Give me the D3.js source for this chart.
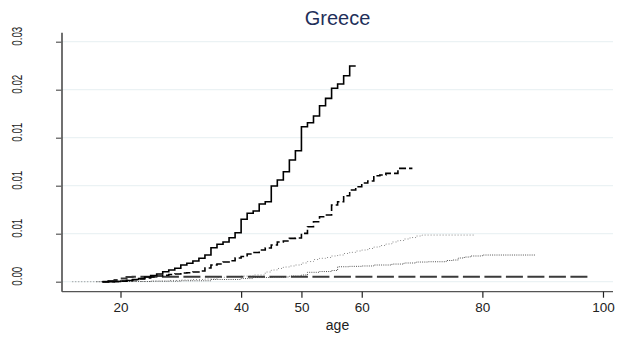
<!DOCTYPE html>
<html>
<head>
<meta charset="utf-8">
<script src="https://cdn.jsdelivr.net/npm/d3@7"></script>
<style>
  html, body { margin: 0; padding: 0; background: #fff; }
  svg { display: block; font-family: Arial, "Liberation Sans", sans-serif; }
</style>
</head>
<body>
<svg id="chart" width="620" height="342"></svg>
<script>
// Cumulative incidence by age, Greece
const title = "Greece";
const xLabel = "age";

const xTicks = [20, 40, 50, 60, 80, 100];
const yTicks = [0, 0.005, 0.01, 0.015, 0.02, 0.025];
const yTickLabels = ["0.00", "0.01", "0.01", "0.01", "0.02", "0.03"];

// Series 1 (solid)
const ages1 = [17, 18, 19, 20, 21, 22, 23, 24, 25, 26, 27, 28, 29, 30, 31, 32, 33, 34, 35, 36, 37, 38, 39,
  40, 41, 42, 43, 44, 45, 46, 47, 48, 49, 50, 51, 52, 53, 54, 55, 56, 57, 58, 59];
const vals1 = [0, 0.00001, 0.00003, 0.00007, 0.00013, 0.00023, 0.00033, 0.00049, 0.00065, 0.00080, 0.00104,
  0.00122, 0.00140, 0.00174, 0.00192, 0.00216, 0.00244, 0.00278, 0.00354, 0.00390, 0.00414, 0.00458,
  0.00510, 0.00650, 0.00713, 0.00736, 0.00809, 0.00833, 0.00997, 0.01059, 0.01146, 0.01268, 0.01365,
  0.01615, 0.01656, 0.01726, 0.01833, 0.01910, 0.02015, 0.02059, 0.02146, 0.02247, 0.02247];

// Series 2 (dashed)
const ages2 = [17, 18, 19, 20, 21, 22, 23, 24, 25, 26, 27, 28, 29, 30, 31, 32, 33, 34, 35, 36, 37, 38, 39,
  40, 41, 42, 43, 44, 45, 46, 47, 48, 49, 50, 51, 52, 53, 54, 55, 56, 57, 58, 59, 60, 61, 62, 63, 64,
  65, 66, 67, 68.4];
const vals2 = [0, 0.00001, 0.00003, 0.00005, 0.00013, 0.00020, 0.00028, 0.00039, 0.00049, 0.00059, 0.00067,
  0.00075, 0.00080, 0.00091, 0.00094, 0.00101, 0.00111, 0.00143, 0.00174, 0.00184, 0.00205, 0.00219,
  0.00247, 0.00263, 0.00289, 0.00304, 0.00330, 0.00351, 0.00382, 0.00414, 0.00424, 0.00452, 0.00455,
  0.00504, 0.00573, 0.00625, 0.00677, 0.00695, 0.00799, 0.00833, 0.00896, 0.00955, 0.00990, 0.01028,
  0.01049, 0.01104, 0.01111, 0.01129, 0.01129, 0.01181, 0.01181, 0.01181];

// Series 3 (grey dots, upper)
const ages3 = [12, 20, 25, 28, 30, 32, 34, 36, 38, 40, 42, 44, 45, 46, 47, 48, 49, 50, 51, 52, 53, 54, 55,
  56, 57, 58, 59, 60, 61, 62, 63, 64, 65, 66, 67, 68, 69, 70, 78.8];
const vals3 = [0, 0.00002, 0.00007, 0.00013, 0.00018, 0.00023, 0.00028, 0.00046, 0.00054, 0.00059, 0.00070,
  0.00101, 0.00122, 0.00138, 0.00153, 0.00164, 0.00174, 0.00195, 0.00210, 0.00231, 0.00244, 0.00252,
  0.00268, 0.00278, 0.00294, 0.00306, 0.00320, 0.00330, 0.00346, 0.00361, 0.00377, 0.00393, 0.00414,
  0.00429, 0.00445, 0.00460, 0.00476, 0.00486, 0.00486];

// Series 4 (dense dots, lower)
const ages4 = [16, 20, 25, 30, 35, 40, 42, 45, 48, 50, 51, 53, 55, 56, 58, 60, 62, 65, 67, 69, 71, 74, 75,
  76, 77, 78, 80, 88.9];
const vals4 = [0, 0.00002, 0.00005, 0.00010, 0.00023, 0.00033, 0.00044, 0.00049, 0.00059, 0.00070, 0.00098,
  0.00106, 0.00117, 0.00156, 0.00160, 0.00164, 0.00174, 0.00184, 0.00195, 0.00205, 0.00208, 0.00221,
  0.00226, 0.00247, 0.00257, 0.00268, 0.00278, 0.00278];

// Series 5 (long dash)
const ages5 = [17, 18, 19, 20, 21, 22, 97.6];
const vals5 = [0, 0.00007, 0.00018, 0.00033, 0.00049, 0.00052, 0.00052];

const series = [
  { ages: ages3, vals: vals3, stroke: "#8a8a8a", width: 1, dash: "1,2" },
  { ages: ages4, vals: vals4, stroke: "#555", width: 1, dash: "1,1.2" },
  { ages: ages5, vals: vals5, stroke: "#3a3a3a", width: 2, dash: "17,4.5" },
  { ages: ages2, vals: vals2, stroke: "#000", width: 1.6, dash: "7,3" },
  { ages: ages1, vals: vals1, stroke: "#000", width: 1.6, dash: null }
];

const svg = d3.select("#chart");
const plot = { left: 62, right: 613, top: 32.7, bottom: 291.7 };

const x = d3.scaleLinear().domain([10.3, 101.66]).range([plot.left, plot.right]);
const y = d3.scaleLinear().domain([-0.00104, 0.02594]).range([plot.bottom, plot.top]);

// horizontal grid
svg.append("g").selectAll("line").data(yTicks).join("line")
  .attr("x1", plot.left).attr("x2", plot.right)
  .attr("y1", d => y(d)).attr("y2", d => y(d))
  .attr("stroke", "#e6eff1").attr("stroke-width", 1);

// curves
const line = d3.line().x(d => x(d[0])).y(d => y(d[1])).curve(d3.curveStepAfter);
series.forEach(s => {
  const pts = s.ages.map((a, i) => [a, s.vals[i]]);
  svg.append("path").datum(pts)
    .attr("d", line)
    .attr("fill", "none")
    .attr("stroke", s.stroke)
    .attr("stroke-width", s.width)
    .attr("stroke-dasharray", s.dash);
});

// y axis
const yAxis = svg.append("g").attr("transform", `translate(${plot.left},0)`)
  .call(d3.axisLeft(y).tickValues(yTicks).tickSize(6).tickFormat(""));
yAxis.select(".domain").attr("d", `M0,${plot.top}V${plot.bottom}`).attr("stroke", "#111").attr("stroke-width", 1.2);
yAxis.selectAll(".tick line").attr("stroke", "#666").attr("stroke-width", 1.3);
svg.append("g").selectAll("text").data(yTicks).join("text")
  .attr("transform", (d) => `translate(21.7,${y(d) - 5.5}) rotate(-90) scale(0.7,1)`)
  .attr("text-anchor", "middle")
  .attr("font-size", 14)
  .attr("fill", "#222")
  .text((d, i) => yTickLabels[i]);

// x axis
const xAxis = svg.append("g").attr("transform", `translate(0,${plot.bottom})`)
  .call(d3.axisBottom(x).tickValues(xTicks).tickSize(6).tickFormat(d3.format("d")));
xAxis.select(".domain").attr("d", `M${plot.left},0H${plot.right}`).attr("stroke", "#555").attr("stroke-width", 1.2);
xAxis.selectAll(".tick line").attr("stroke", "#222").attr("stroke-width", 1.2);
xAxis.selectAll(".tick text").attr("font-size", 13.5).attr("fill", "#222").attr("y", 11).attr("dy", "0.71em")
  .attr("font-family", "Arial, 'Liberation Sans', sans-serif");

svg.append("text")
  .attr("x", (plot.left + plot.right) / 2).attr("y", 330)
  .attr("text-anchor", "middle").attr("font-size", 14).attr("fill", "#222")
  .text(xLabel);

svg.append("text")
  .attr("x", (plot.left + plot.right) / 2).attr("y", 25)
  .attr("text-anchor", "middle").attr("font-size", 20).attr("fill", "#1f2f5a")
  .text(title);
</script>
</body>
</html>
